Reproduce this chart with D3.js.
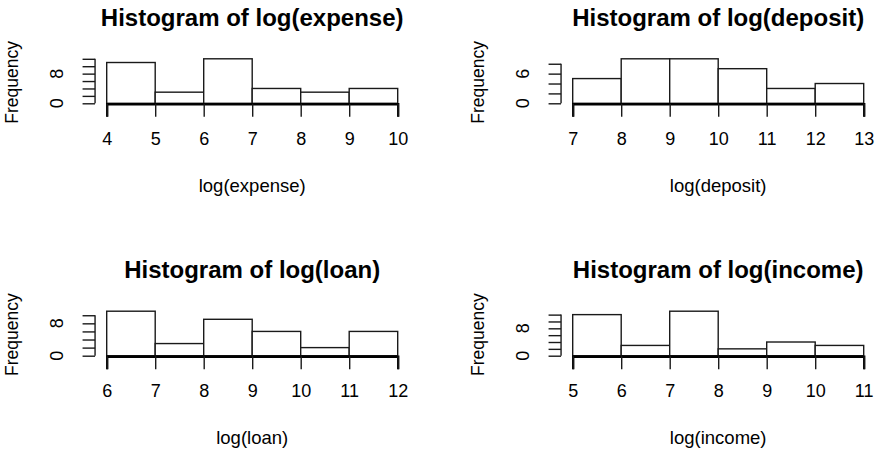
<!DOCTYPE html>
<html>
<head>
<meta charset="utf-8">
<script src="https://cdn.jsdelivr.net/npm/d3@7"></script>
<style>
  body { margin: 0; background: #fff; }
  svg text { font-family: "Liberation Sans", Arial, sans-serif; fill: #000; }
</style>
</head>
<body>
<div id="chart"></div>
<script>
// data
let titles = ["Histogram of log(expense)", "Histogram of log(deposit)", "Histogram of log(loan)", "Histogram of log(income)"];
let xLabels = ["log(expense)", "log(deposit)", "log(loan)", "log(income)"];

let expenseBreaks = [4, 5, 6, 7, 8, 9, 10];
let expenseCounts = [11, 3, 12, 4, 3, 4];
let depositBreaks = [7, 8, 9, 10, 11, 12, 13];
let depositCounts = [5, 9, 9, 7, 3, 4];
let loanBreaks = [6, 7, 8, 9, 10, 11, 12];
let loanCounts = [11, 3, 9, 6, 2, 6];
let incomeBreaks = [5, 6, 7, 8, 9, 10, 11];
let incomeCounts = [12, 3, 13, 2, 4, 3];

let expenseYTicks = [0, 2, 4, 6, 8, 10, 12];
let depositYTicks = [0, 2, 4, 6, 8];
let loanYTicks = [0, 2, 4, 6, 8, 10];
let incomeYTicks = [0, 2, 4, 6, 8, 10, 12];

let expenseYLabels = [0, 8];
let depositYLabels = [0, 6];
let loanYLabels = [0, 8];
let incomeYLabels = [0, 8];

let width = 874, height = 449;

let svg = d3.select("#chart")
  .append("svg")
  .attr("width", width)
  .attr("height", height);

// one panel per histogram, same look as R's hist()
function drawPanel(i, breaks, counts, yTicks, yLabels, left, baseline) {
  let plotW = 291;
  let barTop = 44.5;

  let x = d3.scaleLinear()
    .domain([breaks[0], breaks[breaks.length - 1]])
    .range([left, left + plotW]);

  let y = d3.scaleLinear()
    .domain([0, d3.max(counts)])
    .range([baseline, baseline - barTop]);

  let g = svg.append("g");

  // bars
  let bins = counts.map((c, k) => ({ x0: breaks[k], x1: breaks[k + 1], n: c }));
  g.selectAll("rect")
    .data(bins)
    .enter()
    .append("rect")
    .attr("x", d => x(d.x0))
    .attr("y", d => y(d.n))
    .attr("width", d => x(d.x1) - x(d.x0))
    .attr("height", d => y(0) - y(d.n))
    .attr("fill", "#fff")
    .attr("stroke", "#1a1a1a")
    .attr("stroke-width", 1.4);

  // x axis sits on the baseline (tiny plot region)
  let xAxis = d3.axisBottom(x)
    .tickValues(breaks)
    .tickSize(13)
    .tickPadding(15)
    .tickFormat(d3.format("d"));
  let xg = g.append("g")
    .attr("transform", "translate(0," + (baseline + 0.5) + ")")
    .call(xAxis);
  xg.select(".domain").attr("stroke", "#000").attr("stroke-width", 2.4);
  xg.selectAll(".tick line").attr("stroke", "#1a1a1a").attr("stroke-width", 1.4);
  xg.selectAll(".tick text").attr("font-size", 18).attr("fill", "#000");

  // y axis
  let yx = left - plotW * 0.04;
  let yAxis = d3.axisLeft(y)
    .tickValues(yTicks)
    .tickSize(12.5)
    .tickFormat("");
  let yg = g.append("g")
    .attr("transform", "translate(" + yx + ",0)")
    .call(yAxis);
  yg.select(".domain").attr("stroke", "#1a1a1a").attr("stroke-width", 1.4)
    .attr("d", "M0," + y(0) + "V" + y(d3.max(yTicks)));
  yg.selectAll(".tick line").attr("stroke", "#1a1a1a").attr("stroke-width", 1.4);

  g.selectAll(".ylab")
    .data(yLabels)
    .enter()
    .append("text")
    .attr("class", "ylab")
    .attr("transform", d => "translate(" + (yx - 38) + "," + y(d) + ") rotate(-90)")
    .attr("text-anchor", "middle")
    .attr("dominant-baseline", "central")
    .attr("font-size", 18)
    .text(d => d);

  // title and axis labels
  g.append("text")
    .attr("x", left + plotW / 2)
    .attr("y", baseline - 86)
    .attr("text-anchor", "middle")
    .attr("dominant-baseline", "central")
    .attr("font-size", 24)
    .attr("font-weight", "bold")
    .text(titles[i]);

  g.append("text")
    .attr("x", left + plotW / 2)
    .attr("y", baseline + 82)
    .attr("text-anchor", "middle")
    .attr("dominant-baseline", "central")
    .attr("font-size", 18.5)
    .text(xLabels[i]);

  g.append("text")
    .attr("transform", "translate(" + (left - 94.5) + "," + (baseline - 21) + ") rotate(-90)")
    .attr("text-anchor", "middle")
    .attr("dominant-baseline", "central")
    .attr("font-size", 17.5)
    .text("Frequency");
}

drawPanel(0, expenseBreaks, expenseCounts, expenseYTicks, expenseYLabels, 106.7, 103.3);
drawPanel(1, depositBreaks, depositCounts, depositYTicks, depositYLabels, 572.7, 103.3);
drawPanel(2, loanBreaks, loanCounts, loanYTicks, loanYLabels, 106.7, 355.7);
drawPanel(3, incomeBreaks, incomeCounts, incomeYTicks, incomeYLabels, 572.7, 355.7);
</script>
</body>
</html>
